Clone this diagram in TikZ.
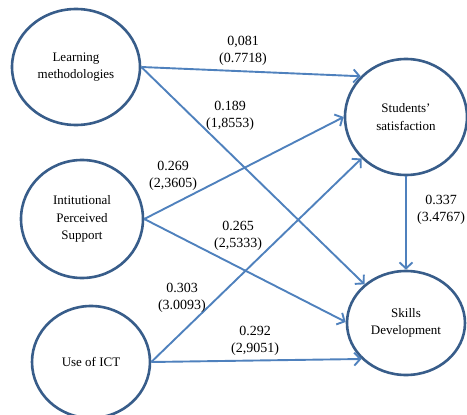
\documentclass[tikz,border=0pt]{standalone}
\usepackage{fontspec}
\setmainfont{Liberation Serif}
\usetikzlibrary{arrows.meta,shapes.geometric}
\definecolor{ringblue}{HTML}{385D8A}
\definecolor{arrowblue}{HTML}{4F81BD}

\begin{document}
\begin{tikzpicture}[x=1pt,y=-1pt]
\tikzstyle{main}=[ellipse, inner sep=0pt, line width=2.6pt, draw=ringblue, fill=white, align=center, font=\fontsize{13}{17.5}\selectfont]
\tikzstyle{connect}=[-{Straight Barb[length=6pt,width=13pt]}, line width=1.9pt, draw=arrowblue]
\tikzstyle{coef}=[align=center, inner sep=0pt, font=\fontsize{14}{17}\selectfont]
  \useasboundingbox (0,0) rectangle (467,415);
  \node[main, minimum width=128pt, minimum height=116pt] (lm) at (76,67) {Learning\\methodologies};
  \node[main, minimum width=122pt, minimum height=118pt] (ips) at (82,219) {Intitutional\\Perceived\\Support};
  \node[main, minimum width=118pt, minimum height=112pt] (ict) at (91,362) {Use of ICT};
  \node[main, minimum width=122pt, minimum height=116pt] (ss) at (406,117) {Students’\\satisfaction};
  \node[main, minimum width=118pt, minimum height=104pt] (sd) at (406,323) {Skills\\Development};
  \path (lm.east) edge [connect] (ss.138)
        (lm.east) edge [connect] (sd.137)
        (ips.east) edge [connect] (ss.180)
        (ips.east) edge [connect] (sd.179)
        (ict.east) edge [connect] (ss.223)
        (ict.east) edge [connect] (sd.-141)
        (ss.south) edge [connect] (sd.north);
  % path coefficients (t-values)
  \node[coef] (c1) at (243,51) {0,081\\(0.7718)};
  \node[coef] (c2) at (230,116) {0.189\\(1,8553)};
  \node[coef] (c3) at (173,176) {0.269\\(2,3605)};
  \node[coef] (c4) at (238,236) {0.265\\(2,5333)};
  \node[coef] (c5) at (441,210) {0.337\\(3.4767)};
  \node[coef] (c6) at (182,298) {0.303\\(3.0093)};
  \node[coef] (c7) at (255,341) {0.292\\(2,9051)};
\end{tikzpicture}
\end{document}
